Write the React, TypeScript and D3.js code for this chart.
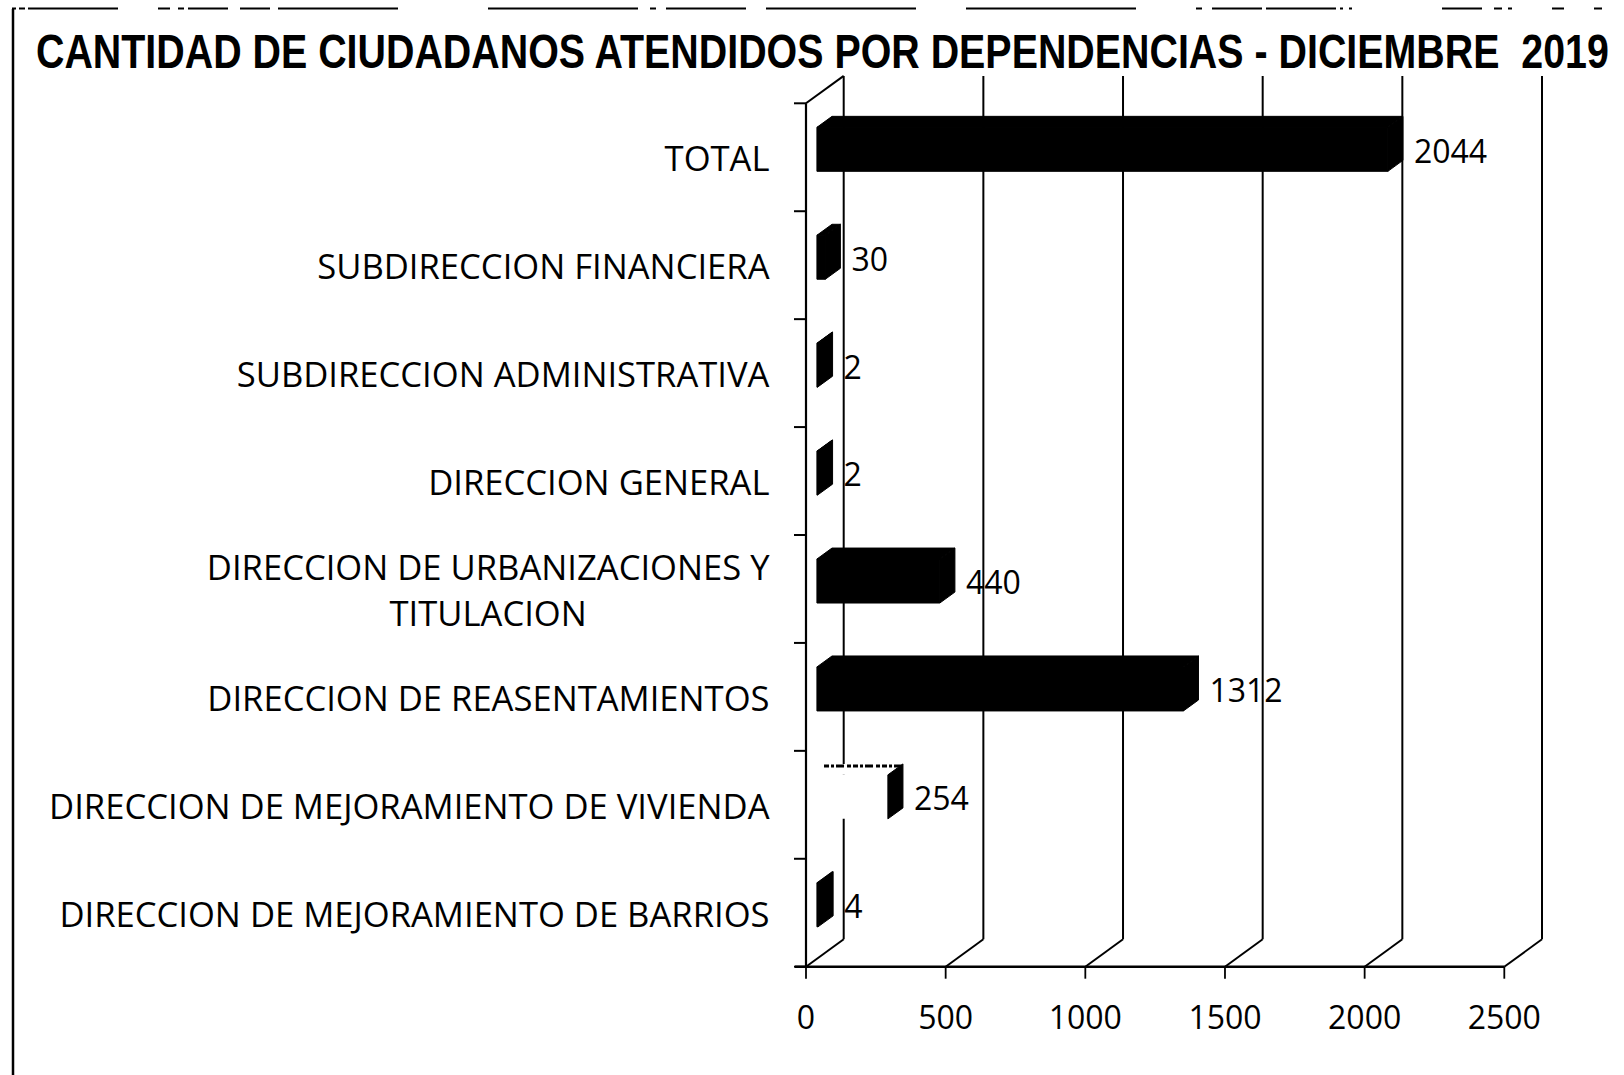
import React from "react";
import * as d3 from "d3";

const title = "CANTIDAD DE CIUDADANOS ATENDIDOS POR DEPENDENCIAS - DICIEMBRE  2019";
const categories = [
  "TOTAL",
  "SUBDIRECCION FINANCIERA",
  "SUBDIRECCION ADMINISTRATIVA",
  "DIRECCION GENERAL",
  "DIRECCION DE URBANIZACIONES Y TITULACION",
  "DIRECCION DE REASENTAMIENTOS",
  "DIRECCION DE MEJORAMIENTO DE VIVIENDA",
  "DIRECCION DE MEJORAMIENTO DE BARRIOS",
];
const values = [2044, 30, 2, 2, 440, 1312, 254, 4];
const xTicks = [0, 500, 1000, 1500, 2000, 2500];
// the scanned reference shows this bar's front face washed out
const fadedCategory = "DIRECCION DE MEJORAMIENTO DE VIVIENDA";

const W = 1624;
const H = 1075;
const LABEL_FONT = "Open Sans";
const LABEL_SIZE = 34.6;
const NUM_SIZE = 32;
const TITLE_FONT = "Liberation Sans";
const TITLE_SIZE = 49;

let ctx: CanvasRenderingContext2D | null = null;
function measure(text: string, size: number, family: string, weight = "normal") {
  if (!ctx) ctx = document.createElement("canvas").getContext("2d");
  if (!ctx) return text.length * size * 0.6;
  ctx.font = `${weight} ${size}px "${family}"`;
  return ctx.measureText(text).width;
}

function wrap(text: string, maxW: number) {
  const words = text.split(" ");
  const lines: string[] = [];
  let cur = "";
  for (const w of words) {
    const t = cur ? cur + " " + w : w;
    if (measure(t, LABEL_SIZE, LABEL_FONT) > maxW && cur) {
      lines.push(cur);
      cur = w;
    } else cur = t;
  }
  if (cur) lines.push(cur);
  return lines;
}

export default function App() {
  const x = d3.scaleLinear().domain([0, 2500]).range([806, 1504.3]);
  const y = d3.scaleBand<string>().domain(categories).range([103.3, 966.7]).padding(0);
  const DX = 37.7;
  const DY = -27.4;
  const f1 = 0.29;
  const f2 = 0.69;
  const barH = 44;
  const x0 = x(0);
  const yTop = y.range()[0];
  const yBot = y.range()[1];
  const labelRight = 769.5;

  const titleLeft = 36;
  const titleWidth = 1575;
  const titleNatural = measure(title, TITLE_SIZE, TITLE_FONT, "bold");
  const sx = titleNatural > 0 ? titleWidth / titleNatural : 1;

  const poly = (pts: [number, number][]) => "M" + pts.map((p) => p.join(",")).join("L") + "Z";

  return (
    <svg
      width={W}
      height={H}
      viewBox={`0 0 ${W} ${H}`}
      style={{ position: "absolute", left: 0, top: 0, background: "#fff" }}
    >
      <rect x={0} y={0} width={W} height={H} fill="#fff" />
      {/* scanned frame */}
      <line x1={12} y1={8.5} x2={1624} y2={8.5} stroke="#000" strokeWidth={2}
        strokeDasharray="4 3 6 3 90 40 12 8 6 4 40 12 30 8 120 90 150 12 6 10 80 20 150 50 170 60 6 10 50 4 70" />
      <line x1={13} y1={9} x2={13} y2={H} stroke="#000" strokeWidth={2.5} />

      {/* title */}
      <g transform={`translate(${titleLeft},68.4) scale(${sx},1)`}>
        <text x={0} y={0} fontFamily={`${TITLE_FONT}, Arial, sans-serif`} fontWeight="bold"
          fontSize={TITLE_SIZE} fill="#000" style={{ whiteSpace: "pre" }}>
          {title}
        </text>
      </g>

      {/* back wall gridlines */}
      {xTicks.map((t) => (
        <g key={"g" + t}>
          <line x1={x(t) + DX} y1={yTop + DY} x2={x(t) + DX} y2={yBot + DY} stroke="#000" strokeWidth={2} />
          <line x1={x(t)} y1={yBot} x2={x(t) + DX} y2={yBot + DY} stroke="#000" strokeWidth={2} />
        </g>
      ))}
      {/* left wall */}
      <line x1={x0} y1={yTop} x2={x0} y2={yBot} stroke="#000" strokeWidth={2.2} />
      <line x1={x0} y1={yTop} x2={x0 + DX} y2={yTop + DY} stroke="#000" strokeWidth={2} />
      {/* floor front edge */}
      <line x1={x0 - 11} y1={yBot} x2={x(2500)} y2={yBot} stroke="#000" strokeWidth={2.5} />

      {/* category ticks */}
      {[...categories.map((c) => y(c) as number), yBot].map((v, i) => (
        <line key={"ct" + i} x1={x0 - 12} y1={v} x2={x0} y2={v} stroke="#000" strokeWidth={2} />
      ))}
      {/* value ticks */}
      {xTicks.map((t) => (
        <line key={"vt" + t} x1={x(t)} y1={yBot} x2={x(t)} y2={yBot + 12} stroke="#000" strokeWidth={1.8} />
      ))}
      {xTicks.map((t) => (
        <text key={"vl" + t} x={x(t)} y={1029} textAnchor="middle"
          fontFamily={LABEL_FONT} fontSize={NUM_SIZE} fill="#000">
          {t}
        </text>
      ))}

      {/* bars */}
      {categories.map((c, i) => {
        const v = values[i];
        const cy = (y(c) as number) + y.bandwidth() / 2;
        const ya = cy - barH / 2;
        const yb = cy + barH / 2;
        const xa = x0;
        const xb = x(v);
        const ax = DX * f1, ay = DY * f1, bx = DX * f2, by = DY * f2;
        const front = poly([[xa + ax, ya + ay], [xb + ax, ya + ay], [xb + ax, yb + ay], [xa + ax, yb + ay]]);
        const top = poly([[xa + ax, ya + ay], [xa + bx, ya + by], [xb + bx, ya + by], [xb + ax, ya + ay]]);
        const side = poly([[xb + ax, ya + ay], [xb + bx, ya + by], [xb + bx, yb + by], [xb + ax, yb + ay]]);
        const faded = c === fadedCategory;
        return (
          <g key={"b" + c}>
            <path d={front} fill={faded ? "#fff" : "#000"} stroke={faded ? "none" : "#000"} strokeWidth={1} strokeLinejoin="round" />
            <path d={top} fill={faded ? "#fff" : "#000"} stroke={faded ? "none" : "#000"} strokeWidth={1} strokeLinejoin="round" />
            {faded && (
              <line x1={xa + bx - 8} y1={ya + by + 2} x2={xb + bx} y2={ya + by + 2}
                stroke="#000" strokeWidth={3} strokeDasharray="5 2 3 2 8 3 4 2" />
            )}
            <path d={side} fill="#000" stroke="#000" strokeWidth={1} strokeLinejoin="round" />
            <text x={xb + bx + 11} y={cy + 5.4} fontFamily={LABEL_FONT} fontSize={NUM_SIZE} fill="#000">
              {v}
            </text>
          </g>
        );
      })}

      {/* category labels */}
      {categories.map((c) => {
        const cy = (y(c) as number) + y.bandwidth() / 2;
        const lines = wrap(c, 760);
        const lh = 46.5;
        if (lines.length === 1) {
          return (
            <text key={"cl" + c} x={labelRight} y={cy + 14} textAnchor="end"
              fontFamily={LABEL_FONT} fontSize={LABEL_SIZE} fill="#000">
              {c}
            </text>
          );
        }
        const maxW = Math.max(...lines.map((l) => measure(l, LABEL_SIZE, LABEL_FONT)));
        const cx = labelRight - maxW / 2;
        const start = cy + 14 - ((lines.length - 1) * lh) / 2;
        return (
          <text key={"cl" + c} textAnchor="middle" fontFamily={LABEL_FONT} fontSize={LABEL_SIZE} fill="#000">
            {lines.map((l, k) => (
              <tspan key={k} x={cx} y={start + k * lh}>
                {l}
              </tspan>
            ))}
          </text>
        );
      })}
    </svg>
  );
}
